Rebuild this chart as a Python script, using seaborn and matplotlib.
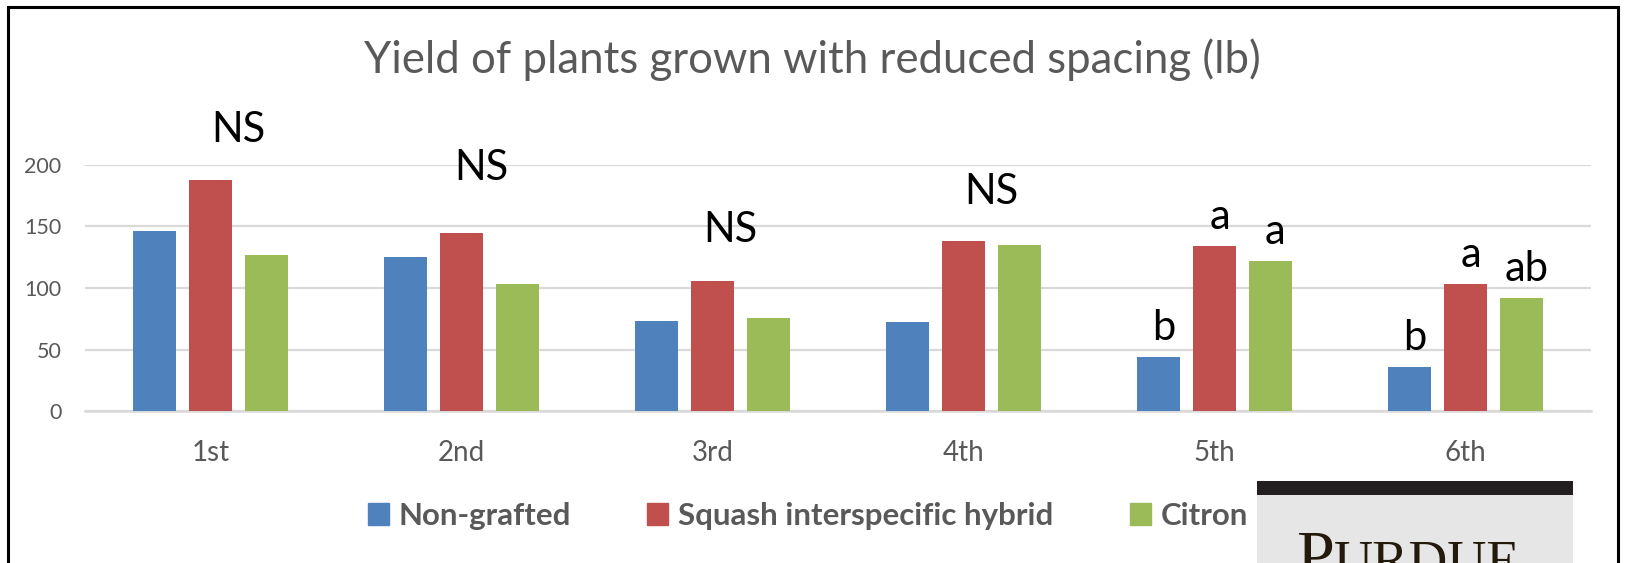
import numpy as np
import pandas as pd
import matplotlib
matplotlib.use('Agg')
import matplotlib.pyplot as plt
import matplotlib.patches as mpatches
import seaborn as sns

# data -----------------------------------------------------------------------
categories = ['1st', '2nd', '3rd', '4th', '5th', '6th']
groups = ['Non-grafted', 'Squash interspecific hybrid', 'Citron']
non_grafted = [146, 125, 73, 72, 44, 36]
squash_hybrid = [188, 145, 106, 138, 134, 103]
citron = [127, 103, 76, 135, 122, 92]

# significance letters per category (one per bar), NS = no significant diff
letters_ng = ['', '', '', '', 'b', 'b']
letters_sq = ['', '', '', '', 'a', 'a']
letters_ci = ['', '', '', '', 'a', 'ab']
ns_labels = ['NS', 'NS', 'NS', 'NS', '', '']

colors = ['#4f81bd', '#c0504d', '#9bbb59']
grey = '#595959'
light = '#d9d9d9'
#-----------------------------------------------------------------------------

df = pd.DataFrame({
    'week': categories * 3,
    'group': [g for g in groups for _ in categories],
    'yield': non_grafted + squash_hybrid + citron,
})

sns.set_style('white')
plt.rcParams['font.family'] = ['Lato', 'DejaVu Sans']

fig = plt.figure(figsize=(16.25, 5.63), dpi=100)
W, H = 1625, 563
ax = fig.add_axes([85 / W, 1 - 411 / H, 1506 / W, 246 / H])

sns.barplot(data=df, x='week', y='yield', hue='group', palette=colors,
            width=0.67, gap=0.226, saturation=1, linewidth=0,
            legend=False, ax=ax, zorder=3)

ax.set_ylim(0, 200)
ax.set_xlim(-0.5, 5.5)
ax.set_yticks([0, 50, 100, 150, 200])
ax.yaxis.grid(True, color=light, linewidth=1.6, zorder=0)
ax.set_axisbelow(True)
for s in ['top', 'right', 'left']:
    ax.spines[s].set_visible(False)
ax.spines['bottom'].set_color(light)
ax.spines['bottom'].set_linewidth(1.8)
ax.set_xlabel('')
ax.set_ylabel('')

ax.tick_params(axis='y', length=0, pad=17, labelsize=15.5, labelcolor=grey)
ax.tick_params(axis='x', which='major', length=0, pad=21, labelsize=20, labelcolor=grey)
ax.set_xticks(np.arange(-0.5, 6, 1), minor=True)
ax.tick_params(axis='x', which='minor', length=6, width=1.6, color=light)

# letters above bars
step = 0.223
for i in range(len(categories)):
    if ns_labels[i]:
        continue
    for j, (lab, vals) in enumerate([(letters_ng, non_grafted),
                                     (letters_sq, squash_hybrid),
                                     (letters_ci, citron)]):
        ax.text(i + (j - 1) * step + 0.02, vals[i] + 14, lab[i], ha='center',
                va='baseline', fontsize=30, color='black')

# NS boxes were placed by hand in the original
ns_x = [0.11, 0.08, 0.07, 0.11]
ns_y = [219, 188, 137, 168]
for i, lab in enumerate(ns_labels):
    if lab:
        ax.text(i + ns_x[i], ns_y[i], lab, ha='center', va='baseline',
                fontsize=30, color='black')

fig.text(0.5, 1 - 72.7 / H, 'Yield of plants grown with reduced spacing (lb)',
         ha='center', va='baseline', fontsize=31.5, color=grey)

handles = [mpatches.Patch(color=c, label=g) for c, g in zip(colors, groups)]
fig.legend(handles=handles, loc='center', bbox_to_anchor=(0.497, 1 - 516 / H),
           ncol=3, frameon=False, handlelength=0.68, handleheight=0.68,
           handletextpad=0.3, columnspacing=2.45,
           prop={'weight': 'bold', 'size': 22.5}, labelcolor=grey)

# chart border
fig.add_artist(mpatches.Rectangle((8 / W, -0.2), 1610 / W, 1.2 - 7 / H,
                                  transform=fig.transFigure, fill=False,
                                  edgecolor='black', linewidth=2.2))

# Purdue logo in the corner
fig.add_artist(mpatches.Rectangle((1257 / W, 0), 316 / W, 1 - 494 / H,
                                  transform=fig.transFigure, facecolor='#e6e6e6',
                                  edgecolor='none'))
fig.add_artist(mpatches.Rectangle((1257 / W, 1 - 495 / H), 316 / W, 14 / H,
                                  transform=fig.transFigure, facecolor='#231f20',
                                  edgecolor='none'))
fig.text(1296 / W, 1 - 577 / H, 'P', family='Liberation Serif', fontsize=49,
         color='#231a0c', va='baseline', ha='left')
fig.text(1334 / W, 1 - 577 / H, 'URDUE', family='Liberation Serif', fontsize=39,
         color='#231a0c', va='baseline', ha='left')

plt.savefig('out.png', dpi=100)
